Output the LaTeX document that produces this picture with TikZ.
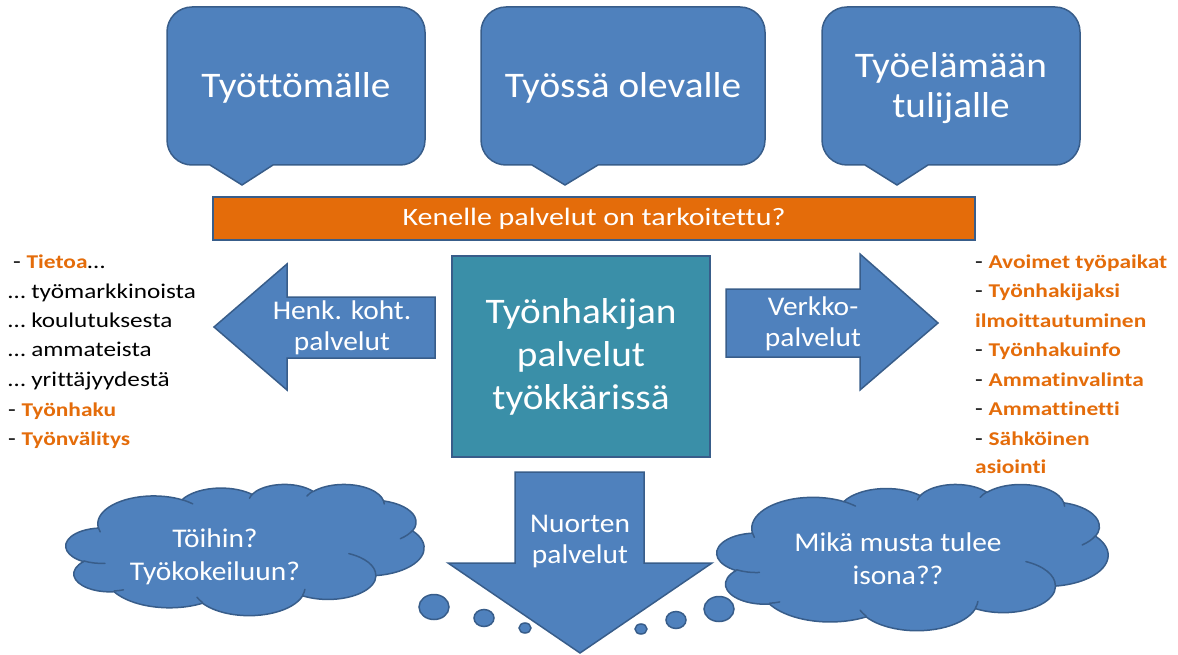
\documentclass[tikz,border=0pt]{standalone}
\usepackage{fontspec}
\setmainfont[FakeStretch=1.09,Ligatures=NoCommon]{Carlito}
\newfontfamily\widefont[FakeStretch=1.2,Ligatures=NoCommon]{Carlito}
\usetikzlibrary{shapes.geometric}
\definecolor{sblue}{RGB}{79,129,189}
\definecolor{sborder}{RGB}{56,93,138}
\definecolor{steal}{RGB}{58,143,168}
\definecolor{sorange}{RGB}{228,108,10}
\newcommand\ob[1]{{\fontsize{19.5}{23}\selectfont\textbf{\color{sorange}#1}}}
\newcommand\mycallout[5]{%
  \draw[shapeblue] ({#1+25},7) -- ({#2-25},7) arc[start angle=270,end angle=360,radius=25]
    -- (#2,140) arc[start angle=0,end angle=90,radius=25]
    -- (#5,165) -- (#4,185) -- (#3,165)
    -- ({#1+25},165) arc[start angle=90,end angle=180,radius=25]
    -- (#1,32) arc[start angle=180,end angle=270,radius=25] -- cycle;}
% elliptic arc given by visual start angle and sweep (DrawingML style)
\newcommand\ca[4]{arc[x radius=#1, y radius=#2,
  start angle={atan2(sin(#3)/#2, cos(#3)/#1)},
  delta angle={mod(atan2(sin(#3+#4)/#2, cos(#3+#4)/#1) - atan2(sin(#3)/#2, cos(#3)/#1) + 720, 360)}]}
\newcommand\officecloud[4]{%
\begin{scope}[shift={(#1,#2)}, xscale=#3/432, yscale=#4/432]
\draw[shapeblue, line join=round] (39.00,143.70) \ca{67.53}{91.90}{-190.4875}{123.7805}
  \ca{53.33}{72.67}{-144.10238}{89.94523}
  \ca{43.65}{59.45}{-145.80792}{99.72302}
  \ca{48.57}{65.95}{-130.98607}{117.24173}
  \ca{53.33}{72.73}{-78.70888}{109.02692}
  \ca{67.75}{92.20}{-46.26725}{130.269}
  \ca{57.85}{78.67}{0.62502}{114.03333}
  \ca{67.52}{92.15}{22.4516}{115.17255}
  \ca{77.20}{105.43}{66.24263}{75.71102}
  \ca{43.60}{59.18}{-274.94208}{146.73557}
  \ca{43.45}{59.45}{-246.8285}{152.51885} -- cycle;
\draw[innerarc] (46.93,261.77) \ca{43.45}{59.45}{86.742}{26.4295}
  (69.28,348.99) \ca{43.60}{59.18}{73.61047}{11.44747}
  (164.78,390.90) \ca{67.52}{92.15}{137.62415}{14.0811}
  (288.27,347.51) \ca{67.52}{92.15}{6.45327}{15.99835}
  (341.29,229.54) \ca{57.85}{78.67}{-70.29235}{70.91737}
  (417.98,153.54) \ca{53.33}{72.73}{30.31803}{27.7515}
  (383.24,54.26) \ca{48.57}{65.95}{-13.74433}{14.8589}
  (290.78,39.52) \ca{48.57}{65.95}{-149.18145}{18.19537}
  (221.41,47.20) \ca{43.65}{59.45}{-163.49427}{17.68635}
  (140.00,51.92) \ca{67.53}{91.90}{-66.70695}{12.31935}
  (41.27,157.89) \ca{67.53}{91.90}{157.65435}{11.85817};
\end{scope}}
\tikzset{
  shapeblue/.style={fill=sblue, draw=sborder, line width=1.5pt, line join=miter},
  innerarc/.style={draw=sborder, line width=1.5pt, line cap=round},
  calltext/.style={text=white, align=center, inner sep=0pt, font=\fontsize{36}{40}\selectfont},
  arrowtext/.style={text=white, align=center, inner sep=0pt, font=\fontsize{27}{31}\selectfont},
  cloudtext/.style={text=white, align=center, inner sep=0pt, font=\fontsize{27}{33}\selectfont},
  listtext/.style={anchor=base west, inner sep=0pt, font=\widefont\fontsize{21}{23}\selectfont},
}
\begin{document}
\begin{tikzpicture}[x=1pt,y=-1pt]
\useasboundingbox (0,0) rectangle (1178,655);
% callouts
\mycallout{167}{425}{210}{242}{273}
\mycallout{481}{765}{532}{565}{598}
\mycallout{822}{1080}{865}{897}{928}
\node[calltext] (c1) at (296,88) {Työttömälle};
\node[calltext] (c2) at (623,88) {Työssä olevalle};
\node[calltext] (c3) at (951,88) {Työelämään\\tulijalle};
% title bar
\node[fill=sorange, draw=sborder, line width=1.5pt, minimum width=762pt, minimum height=43pt, inner sep=0pt,
      text=white, font=\widefont\fontsize{25}{28}\selectfont] (bar) at (594,218.5) {Kenelle palvelut on tarkoitettu?};
% centre box
\node[fill=steal, draw=sborder, line width=1.5pt, minimum width=258pt, minimum height=201pt, inner sep=0pt,
      text=white, align=center, font=\fontsize{36}{43}\selectfont] (centre) at (581,356.5) {Työnhakijan\\palvelut\\työkkärissä};
% arrows
\draw[shapeblue] (214,327) -- (287,264) -- (287,297) -- (435,297) -- (435,358) -- (287,358) -- (287,390) -- cycle;
\node[arrowtext] (henk) at (342,328) {Henk. koht.\\palvelut};
\draw[shapeblue] (726,289) -- (860,289) -- (860,254) -- (938,323) -- (860,390) -- (860,357) -- (726,357) -- cycle;
\node[arrowtext] (verkko) at (813,324) {Verkko-\\palvelut};
\draw[shapeblue] (515,472) -- (644,472) -- (644,563) -- (712,563) -- (580,653) -- (448,563) -- (515,563) -- cycle;
\node[arrowtext] (nuoret) at (580,542) {Nuorten\\palvelut};
% clouds
\officecloud{66}{484}{358}{131}
\node[cloudtext] (cloudLt) at (215,556.5) {Töihin?\\Työkokeiluun?};
\officecloud{717}{484}{391}{146}
\node[cloudtext] (cloudRt) at (898,558.5) {Mikä musta tulee\\isona??};
% bubbles
\foreach \x/\y/\rx/\ry in {434/607/15/12.5, 484/618/10/8.5, 525/628/6/5, 641/629/6/5, 676/620/10/8.5, 719/609/15/12.5}
  \draw[shapeblue] (\x,\y) ellipse [x radius=\rx, y radius=\ry];
% left list
\node[listtext] (l1) at (13,268) {- \ob{Tietoa}…};
\node[listtext] (l2) at (8,298) {… työmarkkinoista};
\node[listtext] (l3) at (8,327) {… koulutuksesta};
\node[listtext] (l4) at (8,356) {… ammateista};
\node[listtext] (l5) at (8,386) {… yrittäjyydestä};
\node[listtext] (l6) at (8,416) {- \ob{Työnhaku}};
\node[listtext] (l7) at (8,445) {- \ob{Työnvälitys}};
% right list
\node[listtext] (r1) at (975,268) {- \ob{Avoimet työpaikat}};
\node[listtext] (r2) at (975,297) {- \ob{Työnhakijaksi}};
\node[listtext] (r3) at (975,327) {\ob{ilmoittautuminen}};
\node[listtext] (r4) at (975,356) {- \ob{Työnhakuinfo}};
\node[listtext] (r5) at (975,386) {- \ob{Ammatinvalinta}};
\node[listtext] (r6) at (975,415) {- \ob{Ammattinetti}};
\node[listtext] (r7) at (975,445) {- \ob{Sähköinen}};
\node[listtext] (r8) at (975,473) {\ob{asiointi}};
\end{tikzpicture}
\end{document}
